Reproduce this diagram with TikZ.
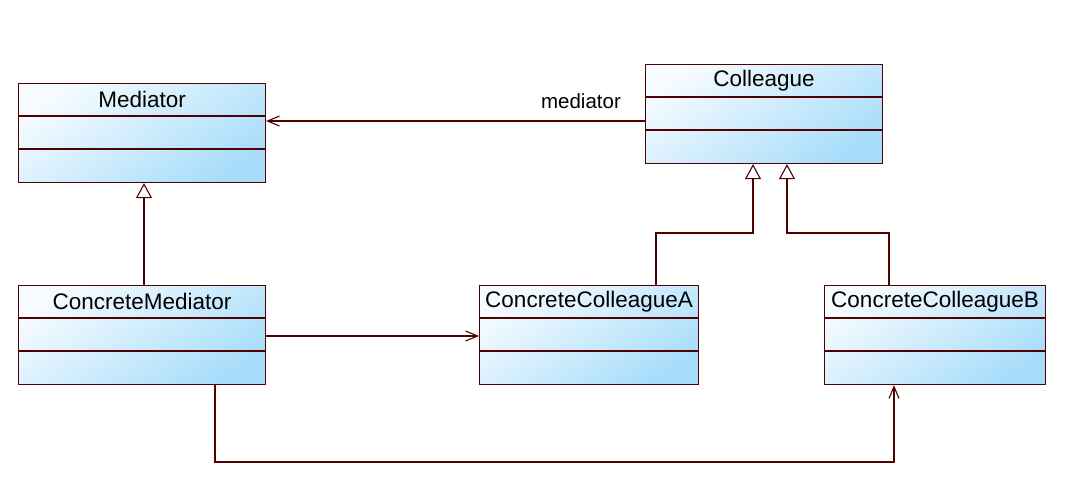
\documentclass[tikz,border=0pt]{standalone}
\usepackage{fontspec}
\setmainfont{Liberation Sans}
\usetikzlibrary{arrows.meta}
\definecolor{umlline}{RGB}{80,0,0}
\definecolor{umllight}{RGB}{245,251,255}
\definecolor{umldark}{RGB}{168,221,250}
\tikzset{
 classbox/.style={draw=umlline, line width=1.1pt, top color=umllight, bottom color=umldark, shading angle=35, inner sep=0pt, anchor=north west},
 classname/.style={font=\fontsize{22.5}{26}\selectfont, inner sep=0pt, text=black},
 conn/.style={draw=umlline, line width=1.1pt},
 assoc/.style={conn, -{Straight Barb[length=12pt,width=10pt,line width=1.1pt]}},
 gen/.style={conn, -{Triangle[open,length=15pt,width=16pt,fill=white,line width=1.1pt]}},
}
\newcommand\umlclass[6]{%
 \node[classbox, minimum width={(#4-#2)*1pt}, minimum height={(#5-#3)*1pt}] (#1) at (#2,#3) {};
 \draw[conn] ([yshift=-33pt]#1.north west) -- ([yshift=-33pt]#1.north east);
 \draw[conn] ([yshift=-66pt]#1.north west) -- ([yshift=-66pt]#1.north east);
 \node[classname] (#1-name) at ([yshift=-16.5pt]#1.north) {#6};
}
\begin{document}
\begin{tikzpicture}[x=1pt,y=-1pt]
\fill[white] (0,0) rectangle (1071,499);
\useasboundingbox (0,0) rectangle (1071,499);
\umlclass{med}{18}{83}{265}{182}{Mediator}
\umlclass{col}{645}{64}{882}{163}{Colleague}
\umlclass{cmed}{18}{285}{265}{384}{ConcreteMediator}
\umlclass{cca}{479}{285}{698}{384}{ConcreteColleagueA}
\umlclass{ccb}{824}{285}{1045}{384}{ConcreteColleagueB}
% helper coordinates
\coordinate (yA) at (0,121);
\coordinate (xG) at (144,0);
\coordinate (xA) at (656,0);
\coordinate (xA2) at (753,0);
\coordinate (xB) at (889,0);
\coordinate (xB2) at (787,0);
\coordinate (yBend) at (0,233);
\coordinate (yC) at (0,336);
\coordinate (xM) at (215,0);
\coordinate (xN) at (894,0);
\coordinate (yLow) at (0,462);
% association Colleague -> Mediator
\draw[assoc] (col.west |- yA) -- (med.east |- yA);
\node[font=\fontsize{20.5}{24}\selectfont, inner sep=0pt] (lbl) at (581,101) {mediator};
% generalizations
\draw[gen] (cmed.north -| xG) -- (med.south -| xG);
\draw[gen] (cca.north -| xA) |- (yBend -| xA2) -- (col.south -| xA2);
\draw[gen] (ccb.north -| xB) |- (yBend -| xB2) -- (col.south -| xB2);
% associations from ConcreteMediator
\draw[assoc] (cmed.east |- yC) -- (cca.west |- yC);
\draw[assoc] (cmed.south -| xM) |- (yLow -| xN) -- (ccb.south -| xN);
\end{tikzpicture}
\end{document}
